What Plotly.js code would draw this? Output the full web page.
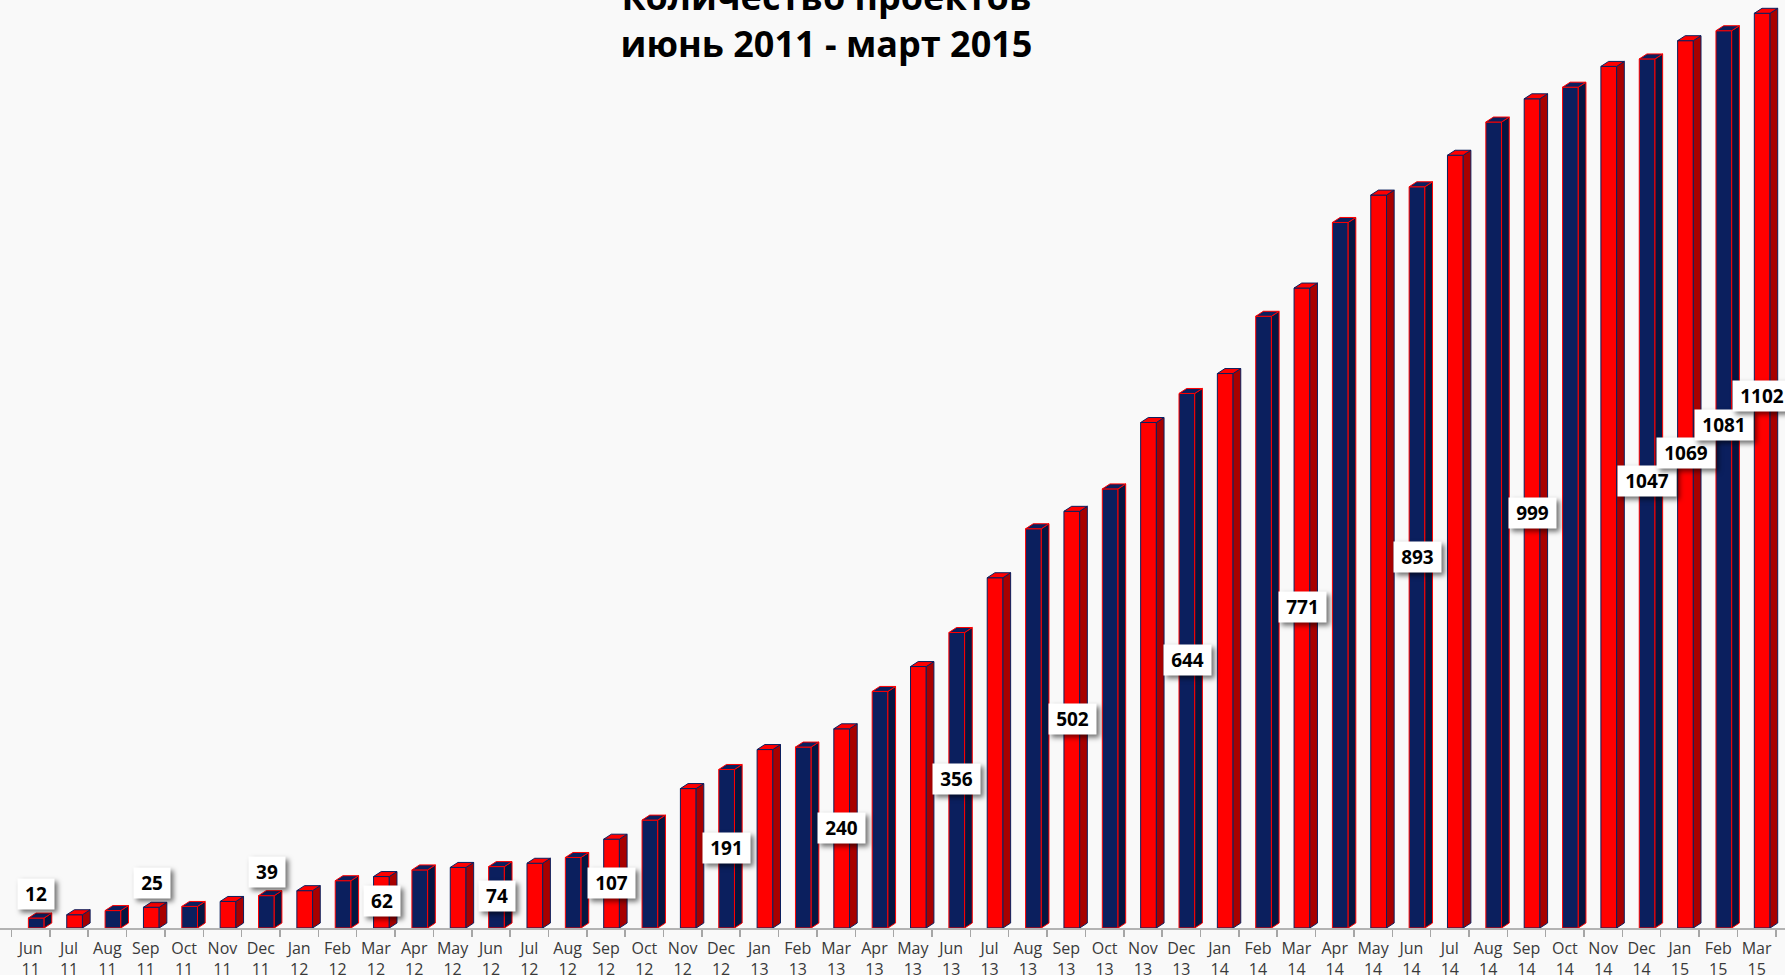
<!DOCTYPE html>
<html>
<head>
<meta charset="utf-8">
<script src="https://cdn.plot.ly/plotly-3.0.1.min.js"></script>
<style>
html, body { margin: 0; padding: 0; background: #f9f9f9; }
#chart { width: 1785px; height: 975px; }
.annotation-text-g rect.bg { filter: drop-shadow(3px 3px 2.5px rgba(0,0,0,0.55)); }
</style>
</head>
<body>
<div id="chart"></div>
<script>
// ---- data ----
const categories = [
  'Jun 11','Jul 11','Aug 11','Sep 11','Oct 11','Nov 11','Dec 11',
  'Jan 12','Feb 12','Mar 12','Apr 12','May 12','Jun 12','Jul 12','Aug 12','Sep 12','Oct 12','Nov 12','Dec 12',
  'Jan 13','Feb 13','Mar 13','Apr 13','May 13','Jun 13','Jul 13','Aug 13','Sep 13','Oct 13','Nov 13','Dec 13',
  'Jan 14','Feb 14','Mar 14','Apr 14','May 14','Jun 14','Jul 14','Aug 14','Sep 14','Oct 14','Nov 14','Dec 14',
  'Jan 15','Feb 15','Mar 15'
];
const projects = [
  12, 16, 21, 25, 26, 32, 39,
  45, 57, 62, 70, 73, 74, 78, 85, 107, 130, 168, 191,
  215, 218, 240, 285, 315, 356, 422, 481, 502, 529, 609, 644,
  668, 737, 771, 850, 883, 893, 931, 971, 999, 1013, 1038, 1047,
  1069, 1081, 1102
];
const labelledCategories = [
  'Jun 11','Sep 11','Dec 11','Mar 12','Jun 12','Sep 12','Dec 12','Mar 13','Jun 13',
  'Sep 13','Dec 13','Mar 14','Jun 14','Sep 14','Dec 14','Jan 15','Feb 15','Mar 15'
];
const titleText = 'Количество проектов<br>июнь 2011 - март 2015';

// ---- styling ----
const RED = '#ff0000', NAVY = '#0b1f5e';
const RED_SIDE = '#a80000', NAVY_SIDE = '#061540';
const FRONT_OFF = -0.06, FRONT_W = 0.41, SIDE_W = 0.2, DEPTH = 6;
const FONT = 'Open Sans, Noto Sans, sans-serif';

const idx = categories.map((c, i) => i);
const isNavy = i => i % 2 === 0;

const frontTrace = {
  type: 'bar', x: idx, y: projects,
  width: FRONT_W, offset: FRONT_OFF,
  marker: {
    color: idx.map(i => isNavy(i) ? NAVY : RED),
    line: { color: idx.map(i => isNavy(i) ? RED : NAVY), width: 1 }
  },
  hoverinfo: 'skip', showlegend: false
};

function facePolys(filterFn, kind) {
  const xs = [], ys = [];
  idx.filter(filterFn).forEach(i => {
    const v = projects[i];
    const xr = i + FRONT_OFF + FRONT_W;
    const xl = i + FRONT_OFF;
    let px, py;
    if (kind === 'side') {
      px = [xr, xr + SIDE_W, xr + SIDE_W, xr, xr];
      py = [0, DEPTH, v + DEPTH, v, 0];
    } else {
      px = [xl, xr, xr + SIDE_W, xl + SIDE_W, xl];
      py = [v, v, v + DEPTH, v + DEPTH, v];
    }
    xs.push(...px, null); ys.push(...py, null);
  });
  return { xs, ys };
}
function polyTrace(filterFn, kind, fill, line) {
  const p = facePolys(filterFn, kind);
  return {
    type: 'scatter', mode: 'lines', x: p.xs, y: p.ys, fill: 'toself',
    fillcolor: fill, line: { color: line, width: 1 },
    hoverinfo: 'skip', showlegend: false, connectgaps: false
  };
}

const traces = [
  frontTrace,
  polyTrace(isNavy, 'side', NAVY_SIDE, RED),
  polyTrace(i => !isNavy(i), 'side', RED_SIDE, NAVY),
  polyTrace(isNavy, 'top', NAVY, RED),
  polyTrace(i => !isNavy(i), 'top', RED, NAVY),
  { type: 'scatter', x: [0], y: [0], xaxis: 'x2', mode: 'markers',
    marker: { opacity: 0 }, hoverinfo: 'skip', showlegend: false }
];

// ---- value labels: centred in the bar, above short bars, staircased when adjacent ----
const labelIdx = labelledCategories.map(c => categories.indexOf(c));
const annotations = [];
let prevY = -1e9;
labelIdx.forEach((i, k) => {
  const v = projects[i];
  const inRun = labelIdx.includes(i - 1) || labelIdx.includes(i + 1);
  let y = v < 50 ? v + 29 : v / 2 + 1;
  if (inRun) y = labelIdx.includes(i - 1) ? prevY + 34 : y + 14;
  const txt = String(v);
  annotations.push({
    x: i + 0.15, y: y, xref: 'x', yref: 'y', text: txt, showarrow: false,
    bgcolor: '#ffffff', borderpad: 4, width: txt.length * 11 + 6, height: 22,
    font: { family: FONT, size: 19, color: '#000', weight: 'bold' }
  });
  prevY = y;
});

const XR = [-0.8, 45.74];
const layout = {
  width: 1785, height: 975, autosize: false,
  margin: { l: 0, r: 0, t: 0, b: 47, pad: 0 },
  paper_bgcolor: '#f9f9f9', plot_bgcolor: '#f9f9f9',
  barmode: 'overlay',
  title: {
    text: titleText, x: 0.463, xanchor: 'center', xref: 'container',
    y: 0.99, yanchor: 'middle', yref: 'container',
    font: { family: FONT, size: 36, color: '#000', weight: 'bold' }
  },
  xaxis: {
    range: XR, tickvals: idx, ticktext: categories.map(c => c.replace(' ', '<br>')),
    ticks: '', showline: false, zeroline: false, showgrid: false, fixedrange: true,
    ticklabelstandoff: 9,
    tickfont: { family: FONT, size: 16, color: '#3a3a3a' }
  },
  xaxis2: {
    overlaying: 'x', anchor: 'y', side: 'bottom', range: XR,
    tickvals: idx.map(i => i - 0.5).concat([45.5]),
    ticks: 'outside', ticklen: 7, tickwidth: 1.5, tickcolor: '#a6a6a6',
    showticklabels: false, showline: true, linecolor: '#b3b3b3', linewidth: 2,
    zeroline: false, showgrid: false, fixedrange: true
  },
  yaxis: {
    range: [0, 1118], visible: false, showgrid: false, zeroline: false, fixedrange: true
  },
  annotations: annotations,
  showlegend: false
};

Plotly.newPlot('chart', traces, layout, { displayModeBar: false, staticPlot: true });
</script>
</body>
</html>
